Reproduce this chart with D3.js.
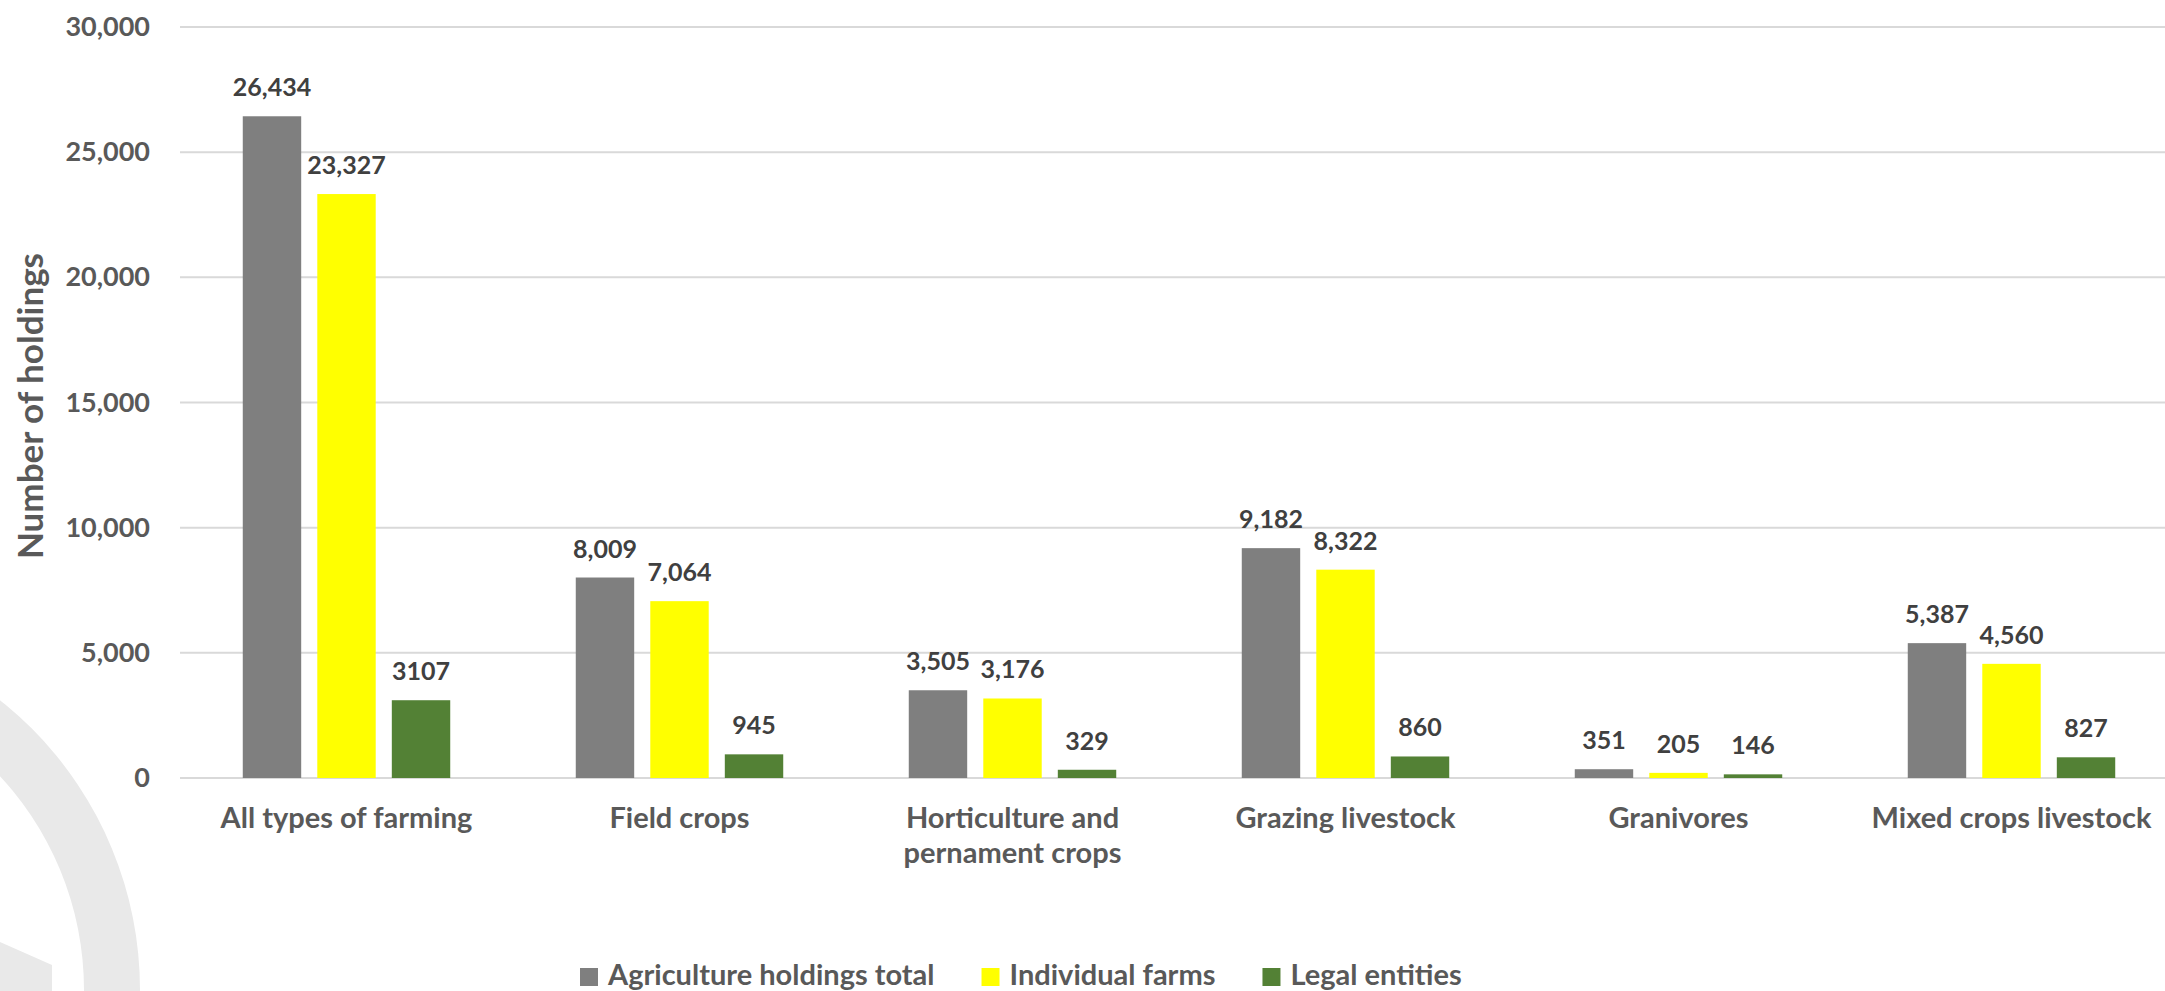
<!DOCTYPE html>
<html>
<head>
<meta charset="utf-8">
<script src="https://cdn.jsdelivr.net/npm/d3@7"></script>
<style>
  body { margin: 0; background: #fff; }
  text { font-family: Lato, "Open Sans", sans-serif; font-weight: bold; }
</style>
</head>
<body>
<div id="chart"></div>
<script>
// Chart data
const categories = [
  "All types of farming",
  "Field crops",
  "Horticulture and pernament crops",
  "Grazing livestock",
  "Granivores",
  "Mixed crops livestock"
]
const seriesNames = ["Agriculture holdings total", "Individual farms", "Legal entities"]
const totalHoldings = [26434, 8009, 3505, 9182, 351, 5387]
const individualFarms = [23327, 7064, 3176, 8322, 205, 4560]
const legalEntities = [3107, 945, 329, 860, 146, 827]
const labelTexts = [
  ["26,434", "8,009", "3,505", "9,182", "351", "5,387"],
  ["23,327", "7,064", "3,176", "8,322", "205", "4,560"],
  ["3107", "945", "329", "860", "146", "827"]
]
const categoryLines = {
  "Horticulture and pernament crops": ["Horticulture and", "pernament crops"]
}
const yTicks = [0, 5000, 10000, 15000, 20000, 25000, 30000]
const colors = ["#7f7f7f", "#ffff00", "#538135"]

const svgWidth = 2165
const svgHeight = 991

let margin = { top: 27, right: -13, bottom: 213, left: 180 }
let width = svgWidth - margin.left - margin.right
let height = svgHeight - margin.top - margin.bottom

let svg = d3
  .select("#chart")
  .append("svg")
  .attr("width", svgWidth)
  .attr("height", svgHeight)

// faint logo watermark in the lower left corner
let mark = svg.append("g").attr("fill", "#e9e9e9")
mark.append("path")
  .attr("transform", "translate(-230, 990)")
  .attr("d", d3.arc()({ innerRadius: 314, outerRadius: 370, startAngle: 0, endAngle: Math.PI }))
mark.append("path").attr("d", "M0,942 L52,965 L52,991 L0,991 Z")

let chartGroup = svg
  .append("g")
  .attr("transform", `translate(${margin.left}, ${margin.top})`)

let rows = categories.map((c, i) => ({
  category: c,
  values: [totalHoldings[i], individualFarms[i], legalEntities[i]],
  labels: [labelTexts[0][i], labelTexts[1][i], labelTexts[2][i]]
}))

let x0 = d3.scaleBand()
  .domain(categories)
  .range([0, width])
  .paddingInner(0.377)
  .paddingOuter(0.1885)

let x1 = d3.scaleBand()
  .domain(d3.range(seriesNames.length))
  .range([0, x0.bandwidth()])
  .paddingInner(0.216)

let y = d3.scaleLinear().domain([0, 30000]).range([height, 0])

// gridlines
chartGroup.append("g")
  .selectAll("line")
  .data(yTicks)
  .enter()
  .append("line")
  .attr("x1", 0)
  .attr("x2", width)
  .attr("y1", d => y(d))
  .attr("y2", d => y(d))
  .attr("stroke", "#d9d9d9")
  .attr("stroke-width", 2)

// y axis labels
let leftAxis = d3.axisLeft(y).tickValues(yTicks).tickFormat(d3.format(",")).tickSize(0).tickPadding(30)
let yAxis = chartGroup.append("g").call(leftAxis)
yAxis.select(".domain").remove()
yAxis.selectAll("text")
  .attr("fill", "#595959")
  .style("font-size", "27px")
  .style("font-family", "Lato, sans-serif")
  .style("font-weight", "bold")

chartGroup.append("text")
  .attr("transform", "rotate(-90)")
  .attr("x", -(406 - margin.top))
  .attr("y", 43 - margin.left)
  .attr("text-anchor", "middle")
  .attr("fill", "#595959")
  .style("font-size", "35px")
  .text("Number of holdings")

// bars
let groups = chartGroup.selectAll(".group")
  .data(rows)
  .enter()
  .append("g")
  .attr("class", "group")
  .attr("transform", d => `translate(${x0(d.category)}, 0)`)

groups.selectAll("rect")
  .data(d => d.values)
  .enter()
  .append("rect")
  .attr("x", (d, i) => x1(i))
  .attr("y", d => y(d))
  .attr("width", x1.bandwidth())
  .attr("height", d => height - y(d))
  .attr("fill", (d, i) => colors[i])

groups.selectAll(".value")
  .data(d => d.values.map((v, i) => ({ v, i, t: d.labels[i] })))
  .enter()
  .append("text")
  .attr("class", "value")
  .attr("x", d => x1(d.i) + x1.bandwidth() / 2)
  .attr("y", d => y(d.v) - 20)
  .attr("text-anchor", "middle")
  .attr("fill", "#404040")
  .style("font-size", "25px")
  .text(d => d.t)

// category labels
let catLabels = chartGroup.append("g")
  .selectAll("text")
  .data(categories)
  .enter()
  .append("text")
  .attr("x", d => x0(d) + x0.bandwidth() / 2)
  .attr("y", height + 50)
  .attr("text-anchor", "middle")
  .attr("fill", "#595959")
  .style("font-size", "29px")

catLabels.each(function(d) {
  let lines = categoryLines[d] || [d]
  d3.select(this).selectAll("tspan")
    .data(lines)
    .enter()
    .append("tspan")
    .attr("x", x0(d) + x0.bandwidth() / 2)
    .attr("dy", (l, i) => i === 0 ? 0 : 35)
    .text(l => l)
})

// legend
let legend = svg.append("g").attr("transform", "translate(580, 985)")
let lx = 0
seriesNames.forEach((name, i) => {
  let item = legend.append("g").attr("transform", `translate(${lx}, 0)`)
  item.append("rect")
    .attr("x", 0)
    .attr("y", -17)
    .attr("width", 18)
    .attr("height", 18)
    .attr("fill", colors[i])
  let t = item.append("text")
    .attr("x", 28)
    .attr("y", 0)
    .attr("fill", "#595959")
    .style("font-size", "29px")
    .text(name)
  lx += 28 + t.node().getComputedTextLength() + 47
})
</script>
</body>
</html>
